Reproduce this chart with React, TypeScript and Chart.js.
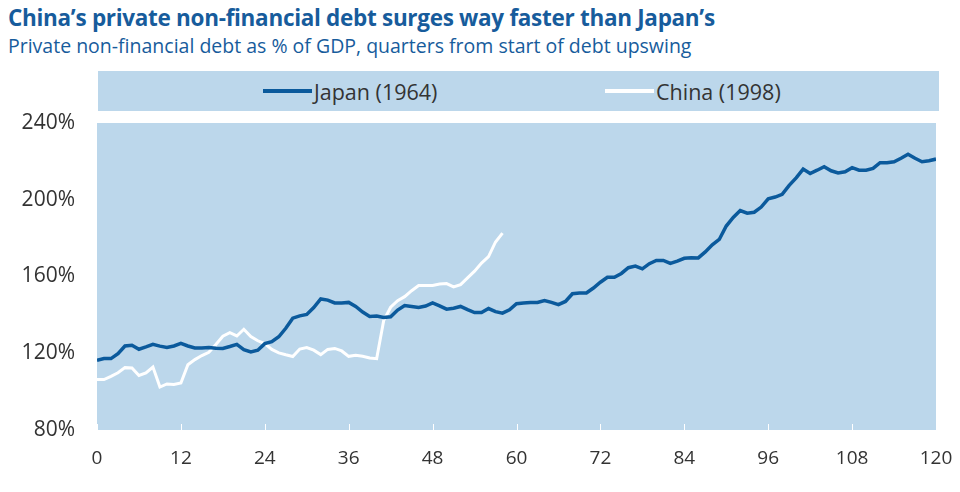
import React, { useEffect, useRef } from "react";
import { Chart, registerables } from "chart.js";

Chart.register(...registerables);

// ---------- data ----------
const japanValues = [
  116.3, 117.2, 117.2, 119.8, 123.8, 124.2, 122.1, 123.3, 124.6, 123.7,
  123.0, 123.8, 125.1, 123.8, 122.8, 122.8, 123.0, 122.6, 122.5, 123.5,
  124.6, 121.9, 120.7, 121.6, 125.0, 126.0, 128.6, 133.0, 138.3, 139.5,
  140.2, 143.8, 148.3, 147.7, 146.2, 146.2, 146.5, 144.4, 141.5, 139.2,
  139.4, 138.6, 139.0, 142.5, 144.9, 144.4, 143.9, 144.6, 146.2, 144.7,
  143.0, 143.5, 144.4, 142.7, 141.2, 141.2, 143.3, 141.7, 140.9, 142.6,
  145.8, 146.2, 146.4, 146.5, 147.5, 146.5, 145.3, 147.0, 151.0, 151.4,
  151.4, 154.0, 157.0, 159.6, 159.6, 161.6, 164.6, 165.4, 164.0, 166.7,
  168.4, 168.4, 166.8, 168.0, 169.5, 169.8, 169.7, 172.8, 176.5, 179.3,
  186.3, 190.8, 194.4, 193.0, 193.5, 196.2, 200.5, 201.4, 202.8, 207.5,
  211.4, 216.0, 213.7, 215.4, 217.2, 215.1, 214.0, 214.6, 216.7, 215.4,
  215.4, 216.3, 219.3, 219.3, 219.8, 221.6, 223.7, 221.6, 219.8, 220.3,
  221.2,
];

const chinaValues = [
  106.3, 106.3, 108.0, 109.8, 112.5, 112.3, 108.4, 109.8, 112.8, 102.4,
  104.0, 103.7, 104.5, 114.0, 116.7, 118.8, 120.5, 124.6, 128.9, 130.7,
  129.0, 132.5, 128.7, 126.5, 125.0, 122.0, 120.2, 119.2, 118.3, 122.2,
  123.0, 121.6, 119.3, 122.0, 122.5, 121.2, 118.4, 118.9, 118.4, 117.5,
  117.2, 137.0, 144.0, 147.4, 149.5, 152.6, 155.3, 155.3, 155.3, 156.1,
  156.3, 154.6, 155.8, 159.3, 162.8, 167.0, 170.4, 178.0, 182.6,
];

const seriesNames = ["Japan (1964)", "China (1998)"];
const xTicks = [0, 12, 24, 36, 48, 60, 72, 84, 96, 108, 120];
const yTicks = [80, 120, 160, 200, 240];

const TITLE = "China\u2019s private non-financial debt surges way faster than Japan\u2019s";
const SUBTITLE = "Private non-financial debt as % of GDP, quarters from start of debt upswing";

// ---------- styles ----------
const PLOT_BG = "#bcd7eb";
const JAPAN_COLOR = "#0b5a9c";
const CHINA_COLOR = "#ffffff";
const TEXT_COLOR = "#333333";
const TITLE_COLOR = "#175c9c";
const FONT = "'Open Sans', 'Noto Sans', sans-serif";

const plotBgPlugin = {
  id: "plotBg",
  beforeDraw(chart: any) {
    const { ctx, chartArea: a, scales } = chart;
    ctx.save();
    ctx.fillStyle = PLOT_BG;
    ctx.fillRect(a.left, a.top, a.right - a.left, a.bottom - a.top);
    ctx.strokeStyle = "#ffffff";
    ctx.lineWidth = 1;
    xTicks.forEach((t) => {
      const px = Math.round(scales.x.getPixelForValue(t)) + 0.5;
      ctx.beginPath();
      ctx.moveTo(px, a.bottom);
      ctx.lineTo(px, a.bottom - 6);
      ctx.stroke();
    });
    ctx.restore();
  },
};

export default function App() {
  const canvasRef = useRef<HTMLCanvasElement | null>(null);

  useEffect(() => {
    if (!canvasRef.current) return;
    const chart = new Chart(canvasRef.current, {
      type: "line",
      data: {
        datasets: [
          {
            label: seriesNames[0],
            data: japanValues.map((v, i) => ({ x: i, y: v })),
            borderColor: JAPAN_COLOR,
            backgroundColor: JAPAN_COLOR,
            borderWidth: 3.5,
            pointRadius: 0,
            tension: 0,
          },
          {
            label: seriesNames[1],
            data: chinaValues.map((v, i) => ({ x: i, y: v })),
            borderColor: CHINA_COLOR,
            backgroundColor: CHINA_COLOR,
            borderWidth: 3,
            pointRadius: 0,
            tension: 0,
          },
        ],
      },
      options: {
        animation: false,
        responsive: false,
        maintainAspectRatio: false,
        layout: { padding: { left: 0, right: 24, top: 123, bottom: 22 } },
        plugins: {
          legend: { display: false },
          tooltip: { enabled: false },
          title: { display: false },
        },
        scales: {
          x: {
            type: "linear",
            min: 0,
            max: 120,
            afterBuildTicks: (axis: any) => {
              axis.ticks = xTicks.map((v) => ({ value: v }));
            },
            afterFit: (axis: any) => {
              axis.height = 40;
              axis.paddingRight = 0;
              axis.paddingLeft = 0;
            },
            grid: { display: false, drawTicks: false },
            border: { display: false },
            ticks: {
              padding: 17,
              color: TEXT_COLOR,
              font: { family: FONT, size: 19 },
              maxRotation: 0,
              autoSkip: false,
            },
          },
          y: {
            min: 80,
            max: 240,
            afterBuildTicks: (axis: any) => {
              axis.ticks = yTicks.map((v) => ({ value: v }));
            },
            afterFit: (axis: any) => {
              axis.width = 97;
            },
            grid: { display: false, drawTicks: false },
            border: { display: false },
            ticks: {
              padding: 22,
              color: TEXT_COLOR,
              font: { family: FONT, size: 21 },
              callback: (v: any) => `${v}%`,
            },
          },
        },
      },
      plugins: [plotBgPlugin],
    });
    return () => chart.destroy();
  }, []);

  const legendItem = (name: string, color: string, left: number) => (
    <div
      style={{
        position: "absolute",
        left,
        top: 0,
        height: 40,
        display: "flex",
        alignItems: "center",
      }}
    >
      <div style={{ width: 49, height: 4, background: color, marginRight: 2 }} />
      <span style={{ fontFamily: FONT, fontSize: 21.5, color: TEXT_COLOR, whiteSpace: "nowrap" }}>
        {name}
      </span>
    </div>
  );

  return (
    <div
      style={{
        position: "absolute",
        left: 0,
        top: 0,
        width: 960,
        height: 492,
        background: "#ffffff",
        overflow: "hidden",
      }}
    >
      <div
        style={{
          position: "absolute",
          left: 8,
          top: 2,
          fontFamily: FONT,
          fontWeight: 700,
          fontSize: 22.5,
          color: TITLE_COLOR,
          whiteSpace: "nowrap",
          letterSpacing: -0.3,
        }}
      >
        {TITLE}
      </div>
      <div
        style={{
          position: "absolute",
          left: 8,
          top: 32,
          fontFamily: FONT,
          fontSize: 19.5,
          color: TITLE_COLOR,
          whiteSpace: "nowrap",
        }}
      >
        {SUBTITLE}
      </div>
      <div
        style={{
          position: "absolute",
          left: 98,
          top: 71,
          width: 841,
          height: 40,
          background: PLOT_BG,
        }}
      >
        {legendItem(seriesNames[0], JAPAN_COLOR, 165)}
        {legendItem(seriesNames[1], CHINA_COLOR, 507)}
      </div>
      <canvas
        ref={canvasRef}
        width={960}
        height={492}
        style={{ position: "absolute", left: 0, top: 0 }}
      />
    </div>
  );
}
